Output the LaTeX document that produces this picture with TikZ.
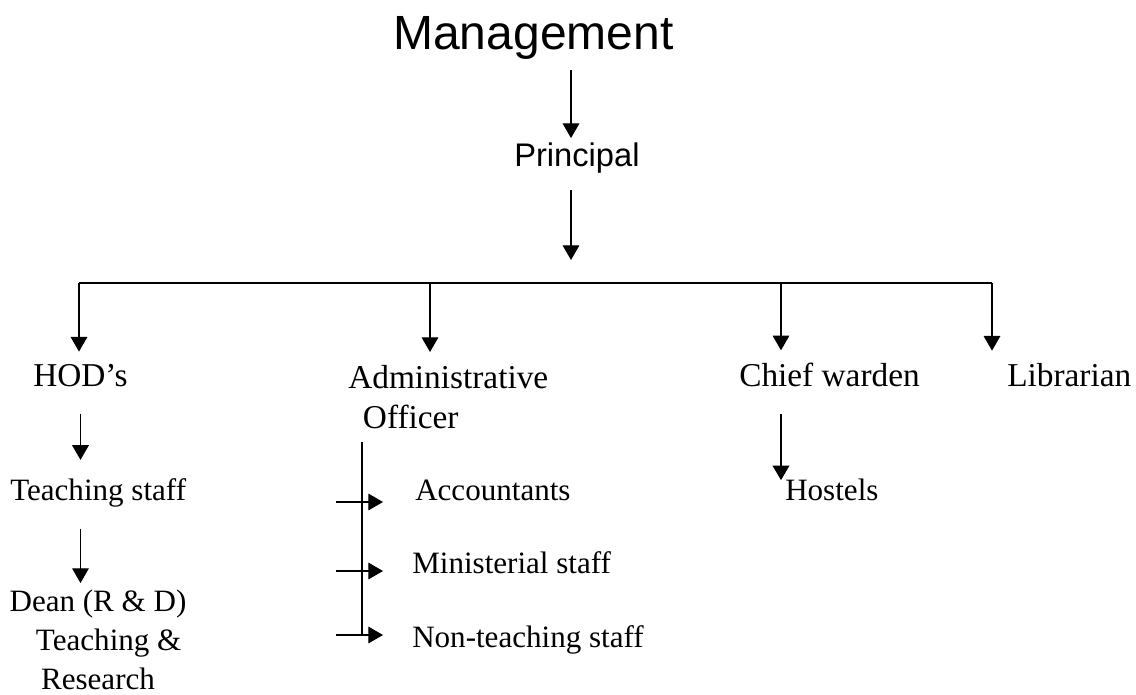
\documentclass[tikz,border=0pt]{standalone}
\usepackage{fontspec}
\setmainfont{Liberation Serif}
\setsansfont{Liberation Sans}
\usetikzlibrary{arrows.meta,calc}
\tikzset{
  toplabel/.style={font=\sffamily\fontsize{36}{42}\selectfont,inner sep=0pt,anchor=base west},
  headlabel/.style={font=\sffamily\fontsize{24.5}{30}\selectfont,inner sep=0pt,anchor=base west},
  post/.style={font=\fontsize{25}{30}\selectfont,inner sep=0pt,anchor=base west},
  staff/.style={font=\fontsize{23.3}{29.25}\selectfont,inner sep=0pt,anchor=base west},
  link/.style={line width=0.8pt},
  arrow/.style={-{Triangle[width=12.5pt,length=11pt]},line width=0.8pt},
  boldarrow/.style={arrow,line width=1.5pt}
}

\begin{document}
\begin{tikzpicture}[x=0.75pt,y=-0.75pt]
  \useasboundingbox (0,0) rectangle (1136,695);
  % top of the chart
  \node[toplabel] (mgmt) at (393,50) {Management};
  \node[headlabel] (prin) at (514,167) {Principal};
  \coordinate (b0) at (571,283);
  \coordinate (b1) at (79,283);
  \coordinate (b2) at (430,283);
  \coordinate (b3) at (781,283);
  \coordinate (b4) at (992,283);
  % second level
  \node[post] (hods) at (33,387) {HOD’s};
  \node[post,anchor=north west,align=left] (admin) at (348,365)
    {Administrative\\\hspace*{11pt}Officer};
  \node[post] (chief) at (739,387) {Chief warden};
  \node[post] (lib) at (1007,387) {Librarian};
  % third level
  \node[staff] (tstaff) at (10,500) {Teaching staff};
  \node[staff,anchor=north,align=center] (dean) at (98,590)
    {Dean (R \& D)\\\hspace*{16pt}Teaching \&\\Research};
  \node[staff] (acc) at (415,500) {Accountants};
  \node[staff] (mini) at (412,573) {Ministerial staff};
  \node[staff] (nonteach) at (412,647) {Non-teaching staff};
  \node[staff] (hostel) at (785,500) {Hostels};
  \coordinate (ao) at (362,442);
  \coordinate (aoend) at (362,635);

  \draw[arrow] ($(mgmt.south -| b0)+(0,10)$) -- ($(prin.north -| b0)+(0,-5)$);
  \draw[arrow] ($(prin.south -| b0)+(0,16)$) -- ($(b0)+(0,-23)$);
  \draw[link] (b1) -- (b4);
  \draw[arrow,shorten >=9.75pt] (b1) -- (b1 |- hods.north);
  \draw[arrow,shorten >=9.75pt] (b2) -- (b2 |- admin.north);
  \draw[arrow,shorten >=9.75pt] (b3) -- (b3 |- chief.north);
  \draw[arrow,shorten >=9.75pt] (b4) -- (b4 |- lib.north);

  \draw[arrow] ($(hods.south)+(0,26)$) -- ($(hods.south |- tstaff.north)+(0,-18)$);
  \draw[arrow] ($(hods.south |- tstaff.south)+(0,22)$) -- ($(hods.south |- dean.north)+(0,-7)$);

  \draw[line width=1.5pt] (ao) -- (aoend);
  \foreach \n/\dy in {acc/2,mini/-2,nonteach/-12}
    \draw[arrow] ($(\n.base -| ao)+(-26,\dy)$) -- ($(\n.base -| ao)+(21,\dy)$);

  \draw[boldarrow] ($(b3 |- chief.south)+(0,26)$) -- ($(b3 |- hostel.north)+(0,2)$);
\end{tikzpicture}
\end{document}
